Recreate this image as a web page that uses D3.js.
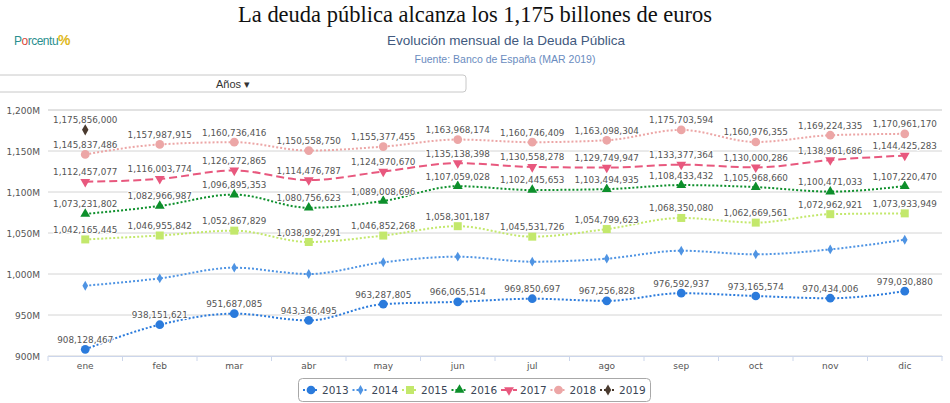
<!DOCTYPE html>
<html><head><meta charset="utf-8">
<script src="https://cdn.jsdelivr.net/npm/d3@7/dist/d3.min.js"></script>
<style>html,body{margin:0;padding:0;background:#fff;overflow:hidden}</style>
</head><body><svg id="c" width="950" height="403"></svg>
<script>
const months = ["ene","feb","mar","abr","may","jun","jul","ago","sep","oct","nov","dic"];
const years = ["2013","2014","2015","2016","2017","2018","2019"];
const v2013 = [908128467,938151621,951687085,943346495,963287805,966065514,969850697,967256828,976592937,973165574,970434006,979030880];
const v2014 = [985700000,994700000,1007700000,1000000000,1014300000,1021100000,1015000000,1018700000,1028400000,1024000000,1030000000,1041800000];
const v2015 = [1042165445,1046955842,1052867829,1038992291,1046852268,1058301187,1045531726,1054799623,1068350080,1062669561,1072962921,1073933949];
const v2016 = [1073231802,1082966987,1096895353,1080756623,1089008696,1107059028,1102445653,1103494935,1108433432,1105968660,1100471033,1107220470];
const v2017 = [1112457077,1116003774,1126272865,1114476787,1124970670,1135138398,1130558278,1129749947,1133377364,1130000286,1138961686,1144425283];
const v2018 = [1145837486,1157987915,1160736416,1150558750,1155377455,1163968174,1160746409,1163098304,1175703594,1160976355,1169224335,1170961170];
const v2019 = [1175856000];
const yTicks = [900000000,950000000,1000000000,1050000000,1100000000,1150000000,1200000000];
const showLabels = [true,false,true,true,true,true,true];

const seriesValues = [v2013,v2014,v2015,v2016,v2017,v2018,v2019];
const colors = ["#2b7bdc","#4f94e3","#c3e86c","#0d8f2b","#e8587e","#eca6a6","#4a3a2e"];
const symbols = ["circle","diamond","square","triangle","triangledown","circle","diamond"];
const symSize = [60,28,64,42,42,60,36];
const dashes = ["2,2","2,2","2,2","2,2","8,4","2,2","2,2"];

const svg = d3.select("#c");
const fontS = "'DejaVu Sans', Verdana, sans-serif";

// Title
const title = svg.append("text").attr("x",475).attr("y",22).attr("text-anchor","middle")
  .style("font-family","'Liberation Serif', 'Times New Roman', serif").style("font-size","22px").attr("fill","#111")
  .text("La deuda pública alcanza los 1,175 billones de euros");
const tw = title.node().getComputedTextLength();
title.style("font-size", (22*474/tw).toFixed(2)+"px");

svg.append("text").attr("x",506).attr("y",45).attr("text-anchor","middle")
  .style("font-family","'Liberation Sans', Arial, sans-serif").style("font-size","13.5px").attr("fill","#41597e")
  .text("Evolución mensual de la Deuda Pública");
svg.append("text").attr("x",505).attr("y",63).attr("text-anchor","middle")
  .style("font-family","'Liberation Sans', Arial, sans-serif").style("font-size","10.5px").attr("fill","#6a8cc0")
  .text("Fuente: Banco de España (MAR 2019)");

// Logo
const logo = svg.append("text").attr("x",14).attr("y",45)
  .style("font-family","'Liberation Sans', Arial, sans-serif").style("font-size","12px").style("letter-spacing","-0.5px");
logo.append("tspan").attr("fill","#2a8f8f").text("P");
logo.append("tspan").attr("fill","#d94a3a").text("o");
logo.append("tspan").attr("fill","#2a8f8f").text("rcentu");
logo.append("tspan").attr("fill","#e0b820").style("font-size","14px").style("font-weight","bold").text("%");

// Dropdown
svg.append("rect").attr("x",-4).attr("y",75).attr("width",470).attr("height",17).attr("rx",3)
  .attr("fill","#fff").attr("stroke","#c8c8c8");
svg.append("text").attr("x",233).attr("y",87.5).attr("text-anchor","middle")
  .style("font-family","'Liberation Sans', Arial, sans-serif").style("font-size","11px").attr("fill","#333")
  .text("Años ▾");

// Scales
const x = d3.scaleBand().domain(months).range([48,942]).padding(0);
const y = d3.scaleLinear().domain([900000000,1200000000]).range([356,110]);
const cx = m => x(m) + x.bandwidth()/2;

// Grid
svg.append("g").selectAll("line").data(yTicks).join("line")
  .attr("x1",48).attr("x2",942).attr("y1",d=>y(d)).attr("y2",d=>y(d))
  .attr("stroke",d=>d===1200000000?"#e2e2e2":"#d4d4d4").attr("stroke-width",d=>d===1200000000?2:1);

const fmtY = d => d3.format(",")(d/1e6) + "M";
svg.append("g").selectAll("text").data(yTicks).join("text")
  .attr("x",40).attr("y",d=>y(d)+3.5).attr("text-anchor","end")
  .style("font-family",fontS).style("font-size","9px").attr("fill","#555")
  .text(fmtY);

// X axis
const xAxis = d3.axisBottom(x).tickSize(0).tickPadding(7);
const gx = svg.append("g").attr("transform","translate(0,356)").call(xAxis);
gx.select(".domain").attr("stroke","#ccd6eb");
gx.selectAll("text").style("font-family",fontS).style("font-size","9px").attr("fill","#555");
const bounds = months.map(m=>x(m)).concat([942]);
gx.selectAll(".bt").data(bounds).join("line").attr("class","bt")
  .attr("x1",d=>d).attr("x2",d=>d).attr("y1",0).attr("y2",5).attr("stroke","#ccd6eb");

// Series
const line = d3.line().x(d=>cx(d.m)).y(d=>y(d.v)).curve(d3.curveMonotoneX);
const symType = {circle:d3.symbolCircle, diamond:d3.symbolDiamond, square:d3.symbolSquare, triangle:d3.symbolTriangle, triangledown:d3.symbolTriangle};
function sym(i){ return d3.symbol().type(symType[symbols[i]]).size(symSize[i])(); }
function symTransform(i,px,py){ return `translate(${px},${py})` + (symbols[i]==="triangledown"?" rotate(180)":""); }

const fmt = d3.format(",");
seriesValues.forEach((vals,i)=>{
  const pts = vals.map((v,j)=>({m:months[j],v}));
  const g = svg.append("g");
  if (pts.length>1) g.append("path").attr("d",line(pts)).attr("fill","none")
    .attr("stroke",colors[i]).attr("stroke-width",2).attr("stroke-dasharray",dashes[i]);
  g.selectAll("path.mk").data(pts).join("path").attr("class","mk")
    .attr("d",sym(i)).attr("transform",d=>symTransform(i,cx(d.m),y(d.v))).attr("fill",colors[i]);
});
// labels on top
seriesValues.forEach((vals,i)=>{
  if(!showLabels[i]) return;
  const pts = vals.map((v,j)=>({m:months[j],v}));
  svg.append("g").selectAll("text").data(pts).join("text")
    .attr("x",d=>cx(d.m)).attr("y",d=>y(d.v)-6.5).attr("text-anchor","middle")
    .style("font-family",fontS).style("font-size","8.8px").attr("fill","#555")
    .attr("stroke","#fff").attr("stroke-width",2).attr("paint-order","stroke").attr("stroke-linejoin","round")
    .text(d=>fmt(d.v));
});

// Legend
svg.append("rect").attr("x",298.5).attr("y",378.5).attr("width",352).attr("height",23).attr("rx",4)
  .attr("fill","#fff").attr("stroke","#a8a8a8");
const lg = svg.append("g");
years.forEach((yr,i)=>{
  const sx = 311 + i*49.5;
  const it = lg.append("g");
  it.append("line").attr("x1",sx-8).attr("x2",sx+8).attr("y1",390).attr("y2",390)
    .attr("stroke",colors[i]).attr("stroke-width",2).attr("stroke-dasharray",dashes[i]);
  it.append("path").attr("d",sym(i)).attr("transform",symTransform(i,sx,390)).attr("fill",colors[i]);
  it.append("text").attr("x",sx+11).attr("y",394).style("font-family",fontS).style("font-size","10.5px")
    .attr("fill","#3a4656").text(yr);
});
</script></body></html>
